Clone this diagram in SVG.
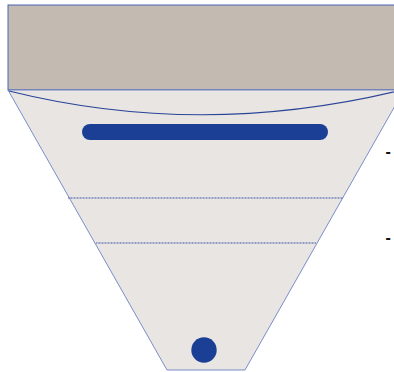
<svg xmlns="http://www.w3.org/2000/svg" width="394" height="372" viewBox="0 0 394 372">
<style>
.edge{stroke:#4a64b4;stroke-width:1;fill:none}
.dot{stroke:#3f55a8;stroke-width:1;stroke-dasharray:1 0.5;fill:none}
.lbl{font-family:"Liberation Sans",Arial,sans-serif;font-size:16px;font-weight:bold;fill:#111}
</style>
<g id="header">
<rect x="8" y="5" width="396" height="85" class="edge" style="fill:#c3bab1"/>
</g>
<g id="funnel">
<polygon points="8,90 404,90 245,370 167,370" fill="#e8e5e2" stroke="#5a74c0" stroke-width="0.8"/>
<path d="M9,91 Q206,140 410,88" fill="none" stroke="#2a4598" stroke-width="1.2"/>
</g>
<g id="bar">
<rect x="82" y="124" width="246" height="16" rx="8" fill="#1b3f94"/>
</g>
<g id="dividers">
<line x1="68" y1="198" x2="343" y2="198" class="dot"/>
<line x1="96" y1="243" x2="316" y2="243" class="dot"/>
</g>
<g id="bottom-dot">
<circle cx="204" cy="350" r="12.7" fill="#1b3f94"/>
</g>
<g id="labels">
<text x="385.5" y="156.5" class="lbl">-</text>
<text x="385.5" y="243" class="lbl">-</text>
</g>
</svg>
